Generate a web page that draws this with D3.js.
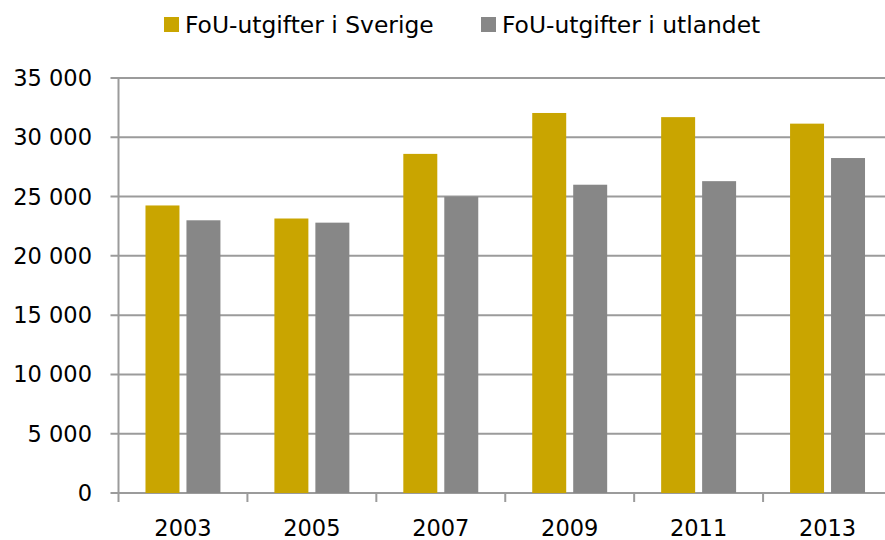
<!DOCTYPE html>
<html><head><meta charset="utf-8">
<script src="https://cdn.jsdelivr.net/npm/d3@7/dist/d3.min.js"></script>
<style>body{margin:0;background:#fff}svg{display:block}text{font-family:"DejaVu Sans",sans-serif;fill:#000}</style>
</head><body>
<script>
const years = ["2003","2005","2007","2009","2011","2013"];
const sverige = [24250, 23150, 28600, 32050, 31700, 31150];
const utlandet = [23000, 22800, 25000, 26000, 26300, 28250];
const seriesNames = ["FoU-utgifter i Sverige", "FoU-utgifter i utlandet"];
const yTicks = [0, 5000, 10000, 15000, 20000, 25000, 30000, 35000];
const colors = ["#C9A500", "#878787"];

const W = 885, H = 540;
const svg = d3.select("body").append("svg").attr("width", W).attr("height", H);
const pLeft = 118.5, pRight = 892, pTop = 78, pBottom = 493;
const x = d3.scaleBand().domain(years).range([pLeft, pRight]);
const y = d3.scaleLinear().domain([0, 35000]).range([pBottom, pTop]);
const fmt = v => d3.format(",")(v).replace(/,/g, " ");

// gridlines
svg.append("g").selectAll("line").data(yTicks).join("line")
  .attr("x1", pLeft - 8).attr("x2", W).attr("y1", d => y(d)).attr("y2", d => y(d))
  .attr("stroke", "#9b9b9b").attr("stroke-width", 2);

// y labels
svg.append("g").selectAll("text").data(yTicks).join("text")
  .attr("x", 92).attr("y", d => y(d) + 8).attr("text-anchor", "end")
  .attr("font-size", 22.5).text(fmt);

// bars
const bw = x.bandwidth();
const barW = bw * 34 / 129, gap = bw * 7 / 129, pad = (bw - 2 * barW - gap) / 2;
const data = [sverige, utlandet];
data.forEach((vals, si) => {
  svg.append("g").selectAll("rect").data(years).join("rect")
    .attr("x", (d) => x(d) + pad + si * (barW + gap))
    .attr("width", barW)
    .attr("y", (d, i) => y(vals[i]))
    .attr("height", (d, i) => y(0) - y(vals[i]))
    .attr("fill", colors[si]);
});

// y axis line
svg.append("line").attr("x1", pLeft).attr("x2", pLeft).attr("y1", pTop).attr("y2", pBottom)
  .attr("stroke", "#9b9b9b").attr("stroke-width", 2);
// x axis ticks
const bounds = years.map(d => x(d)).concat([pRight]);
svg.append("g").selectAll("line").data(bounds).join("line")
  .attr("x1", d => d).attr("x2", d => d).attr("y1", pBottom).attr("y2", pBottom + 9)
  .attr("stroke", "#9b9b9b").attr("stroke-width", 2);
// x labels
svg.append("g").selectAll("text").data(years).join("text")
  .attr("x", d => x(d) + bw / 2).attr("y", 536).attr("text-anchor", "middle")
  .attr("font-size", 22.5).text(d => d);

// legend
const legX = [164, 481];
seriesNames.forEach((n, i) => {
  svg.append("rect").attr("x", legX[i]).attr("y", 17).attr("width", 15).attr("height", 15).attr("fill", colors[i]);
  svg.append("text").attr("x", legX[i] + 21).attr("y", 33).attr("font-size", 23.4).text(n);
});
</script>
</body></html>
